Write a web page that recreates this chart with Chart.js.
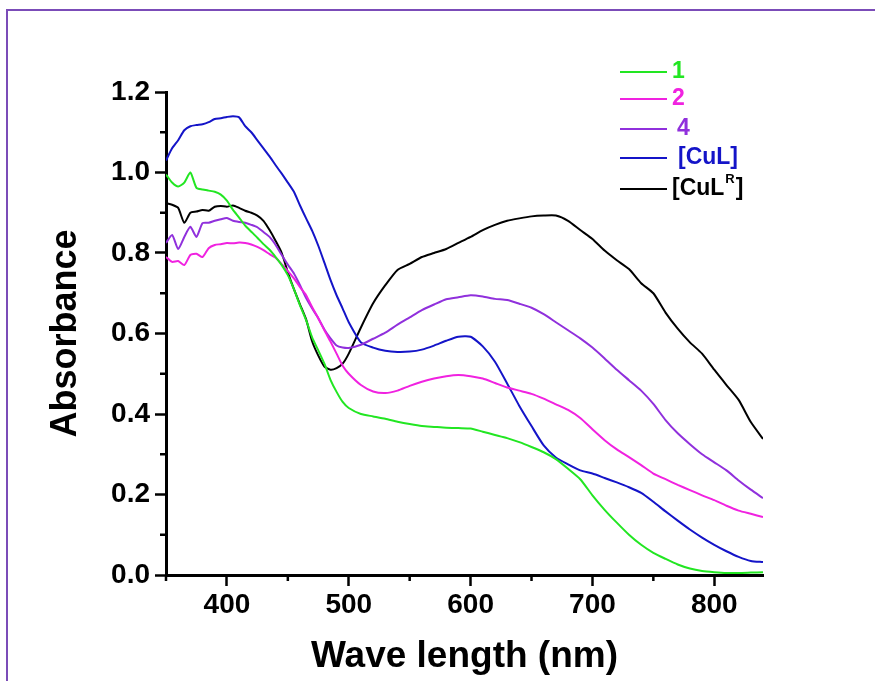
<!DOCTYPE html>
<html lang="en">
  <head>
    <meta charset="UTF-8" />
    <title>Absorbance spectra</title>
    <script src="https://cdn.jsdelivr.net/npm/chart.js@4.4.1/dist/chart.umd.min.js"></script>
    <style>
      html, body { margin: 0; padding: 0; background: #fff; }
      .wrap { position: relative; width: 875px; height: 681px; overflow: hidden; }
      .frame {
        position: absolute;
        left: 6px;
        top: 9px;
        right: -10px;
        bottom: -10px;
        border-top: 2px solid #7b4cb8;
        border-left: 2px solid #7b4cb8;
        pointer-events: none;
      }
      canvas { position: absolute; left: 0; top: 0; }
    </style>
  </head>
  <body>
    <div class="wrap">
      <canvas id="spectra" width="875" height="681"></canvas>
      <div class="frame"></div>
    </div>

    <script>
      // wavelength grid (nm): 5 nm steps up to 500, then 10 nm
      const wavelength = [
        350, 355, 360, 365, 370, 375, 380, 385, 390, 395, 400, 405, 410, 415, 420, 425,
        430, 435, 440, 445, 450, 455, 460, 465, 470, 475, 480, 485, 490, 495, 500,
        510, 520, 530, 540, 550, 560, 570, 580, 590, 600, 610, 620, 630, 640, 650,
        660, 670, 680, 690, 700, 710, 720, 730, 740, 750, 760, 770, 780, 790, 800,
        810, 820, 830, 840
      ]

      const abs1 = [
        0.995, 0.975, 0.965, 0.975, 1.0, 0.962, 0.958, 0.955, 0.952, 0.945, 0.93, 0.907, 0.888, 0.868, 0.853, 0.838,
        0.822, 0.808, 0.79, 0.77, 0.745, 0.71, 0.67, 0.633, 0.59, 0.558, 0.525, 0.485, 0.455, 0.43, 0.415,
        0.4, 0.394, 0.388, 0.381, 0.375, 0.37, 0.368, 0.366, 0.365, 0.364, 0.356, 0.348, 0.34, 0.33, 0.318,
        0.305, 0.288, 0.264, 0.238, 0.198, 0.162, 0.13, 0.1, 0.075, 0.055, 0.04, 0.026, 0.016, 0.01, 0.007,
        0.005, 0.005, 0.006, 0.007
      ]

      const abs2 = [
        0.79, 0.778, 0.78, 0.77, 0.795, 0.798, 0.79, 0.812, 0.82, 0.822, 0.825, 0.824, 0.826, 0.825, 0.821, 0.815,
        0.807, 0.797, 0.788, 0.772, 0.755, 0.737, 0.715, 0.695, 0.665, 0.638, 0.608, 0.58, 0.55, 0.52, 0.5,
        0.472, 0.456, 0.452, 0.458, 0.47, 0.48, 0.488, 0.494, 0.497, 0.494, 0.488, 0.477, 0.466, 0.458, 0.45,
        0.438, 0.424, 0.41, 0.39, 0.362, 0.335, 0.312, 0.293, 0.273, 0.252, 0.238, 0.224, 0.211, 0.198, 0.186,
        0.172, 0.16, 0.152, 0.144
      ]

      const abs4 = [
        0.825, 0.845, 0.81, 0.84, 0.865, 0.84, 0.874, 0.875, 0.88, 0.884, 0.887, 0.88, 0.877, 0.875, 0.87, 0.864,
        0.852, 0.84, 0.82, 0.795, 0.771, 0.749, 0.72, 0.688, 0.662, 0.638, 0.61, 0.588, 0.57, 0.565, 0.564,
        0.572, 0.587, 0.602, 0.622, 0.64, 0.658, 0.672, 0.685, 0.69, 0.695, 0.692, 0.686, 0.683, 0.674, 0.664,
        0.648, 0.628, 0.608, 0.588, 0.565, 0.538, 0.51, 0.484, 0.458, 0.425, 0.385, 0.352, 0.325, 0.3, 0.28,
        0.26, 0.235, 0.212, 0.191
      ]

      const absCuL = [
        1.03, 1.06, 1.08, 1.105, 1.115, 1.118, 1.12, 1.125, 1.133, 1.135, 1.138, 1.14, 1.137, 1.115, 1.1, 1.08,
        1.06, 1.04, 1.018, 0.997, 0.975, 0.952, 0.918, 0.886, 0.855, 0.818, 0.776, 0.733, 0.695, 0.662, 0.628,
        0.578, 0.565, 0.557, 0.554, 0.555, 0.56, 0.57, 0.582, 0.592, 0.592, 0.568, 0.53, 0.476, 0.42, 0.37,
        0.322, 0.292, 0.275, 0.26, 0.252, 0.241, 0.23, 0.218, 0.204, 0.182, 0.158, 0.135, 0.113, 0.093, 0.075,
        0.059, 0.045, 0.035, 0.032
      ]

      const absCuLR = [
        0.924, 0.92, 0.912, 0.875, 0.9, 0.903, 0.907, 0.905, 0.915, 0.917, 0.915, 0.918, 0.912, 0.905, 0.9, 0.893,
        0.88, 0.857, 0.83, 0.8, 0.752, 0.71, 0.672, 0.635, 0.58, 0.545, 0.518, 0.51, 0.514, 0.525, 0.55,
        0.615, 0.675, 0.72, 0.758, 0.773, 0.79, 0.8, 0.81, 0.825, 0.84, 0.857, 0.87, 0.88, 0.886, 0.891,
        0.893, 0.893, 0.88, 0.857, 0.835, 0.806, 0.782, 0.76, 0.725, 0.7, 0.652, 0.612, 0.578, 0.55, 0.51,
        0.472, 0.435, 0.38, 0.338
      ]

      const seriesNames = ['1', '2', '4', '[CuL]', '[CuL', 'R', ']']
      const seriesColors = ['#22e622', '#f022e0', '#9030dc', '#1414c8', '#000000']

      const xMajor = [400, 500, 600, 700, 800]
      const xMinor = [350, 450, 550, 650, 750]
      const yMajor = [0, 0.2, 0.4, 0.6, 0.8, 1.0, 1.2]
      const yMinor = [0.1, 0.3, 0.5, 0.7, 0.9, 1.1]

      const FONT = '"Liberation Sans", Arial, sans-serif'
      Chart.defaults.font.family = FONT
      Chart.defaults.font.weight = 'bold'
      Chart.defaults.color = '#000'

      const points = arr => wavelength.map((w, i) => ({ x: w, y: arr[i] }))
      const allSeries = [abs1, abs2, abs4, absCuL, absCuLR]

      // short minor ticks on both axes
      const minorTicks = {
        id: 'minorTicks',
        afterDraw(chart) {
          const { ctx, scales } = chart
          const x = scales.x
          const y = scales.y
          ctx.save()
          ctx.strokeStyle = '#000'
          ctx.lineWidth = 2.5
          ctx.beginPath()
          xMinor.forEach(v => {
            const px = x.getPixelForValue(v)
            ctx.moveTo(px, y.bottom)
            ctx.lineTo(px, y.bottom + 6)
          })
          yMinor.forEach(v => {
            const py = y.getPixelForValue(v)
            ctx.moveTo(x.left - 6, py)
            ctx.lineTo(x.left, py)
          })
          ctx.stroke()
          ctx.restore()
        }
      }

      // legend in the top right corner, with a superscript for CuL^R
      const cornerLegend = {
        id: 'cornerLegend',
        afterDraw(chart) {
          const ctx = chart.ctx
          const rows = [72, 99, 129, 158, 189]
          const textX = [672, 672, 677, 678, 672]
          ctx.save()
          ctx.lineWidth = 2
          ctx.textBaseline = 'middle'
          ctx.font = 'bold 23px ' + FONT
          rows.forEach((ry, i) => {
            ctx.strokeStyle = seriesColors[i]
            ctx.beginPath()
            ctx.moveTo(620, ry)
            ctx.lineTo(667, ry)
            ctx.stroke()
            ctx.fillStyle = seriesColors[i]
            if (i < 4) {
              ctx.fillText(seriesNames[i], textX[i], ry)
            } else {
              let tx = textX[i]
              ctx.fillText(seriesNames[4], tx, ry)
              tx += ctx.measureText(seriesNames[4]).width + 1
              ctx.font = 'bold 13px ' + FONT
              ctx.fillText(seriesNames[5], tx, ry - 10)
              tx += ctx.measureText(seriesNames[5]).width + 1
              ctx.font = 'bold 23px ' + FONT
              ctx.fillText(seriesNames[6], tx, ry)
            }
          })
          ctx.restore()
        }
      }

      new Chart(document.getElementById('spectra'), {
        type: 'line',
        data: {
          datasets: allSeries.map((arr, i) => ({
            label: i === 4 ? '[CuLR]' : seriesNames[i],
            data: points(arr),
            borderColor: seriesColors[i],
            borderWidth: 2,
            pointRadius: 0,
            tension: 0.2,
            fill: false
          }))
        },
        options: {
          responsive: false,
          animation: false,
          devicePixelRatio: 1,
          layout: { padding: { top: 92, right: 112, left: 0, bottom: 0 } },
          plugins: {
            legend: { display: false },
            tooltip: { enabled: false }
          },
          scales: {
            x: {
              type: 'linear',
              min: 350,
              max: 840,
              afterBuildTicks: s => { s.ticks = xMajor.map(v => ({ value: v })) },
              afterFit: s => { s.height = 106 },
              ticks: { font: { size: 28, weight: 'bold' }, padding: 2, maxRotation: 0 },
              grid: { drawOnChartArea: false, tickLength: 11, tickWidth: 2.5, tickColor: '#000' },
              border: { color: '#000', width: 3 },
              title: {
                display: true,
                text: 'Wave length (nm)',
                font: { size: 37, weight: 'bold' },
                padding: { top: 0, bottom: 2 }
              }
            },
            y: {
              min: 0,
              max: 1.2,
              afterBuildTicks: s => { s.ticks = yMajor.map(v => ({ value: v })) },
              afterFit: s => { s.width = 166 },
              ticks: {
                font: { size: 28, weight: 'bold' },
                padding: 5,
                callback: v => v.toFixed(1)
              },
              grid: { drawOnChartArea: false, tickLength: 11, tickWidth: 2.5, tickColor: '#000' },
              border: { color: '#000', width: 3 },
              title: {
                display: true,
                text: 'Absorbance',
                font: { size: 36, weight: 'bold' },
                padding: { top: 44, bottom: 0 }
              }
            }
          }
        },
        plugins: [minorTicks, cornerLegend]
      })
    </script>
  </body>
</html>
